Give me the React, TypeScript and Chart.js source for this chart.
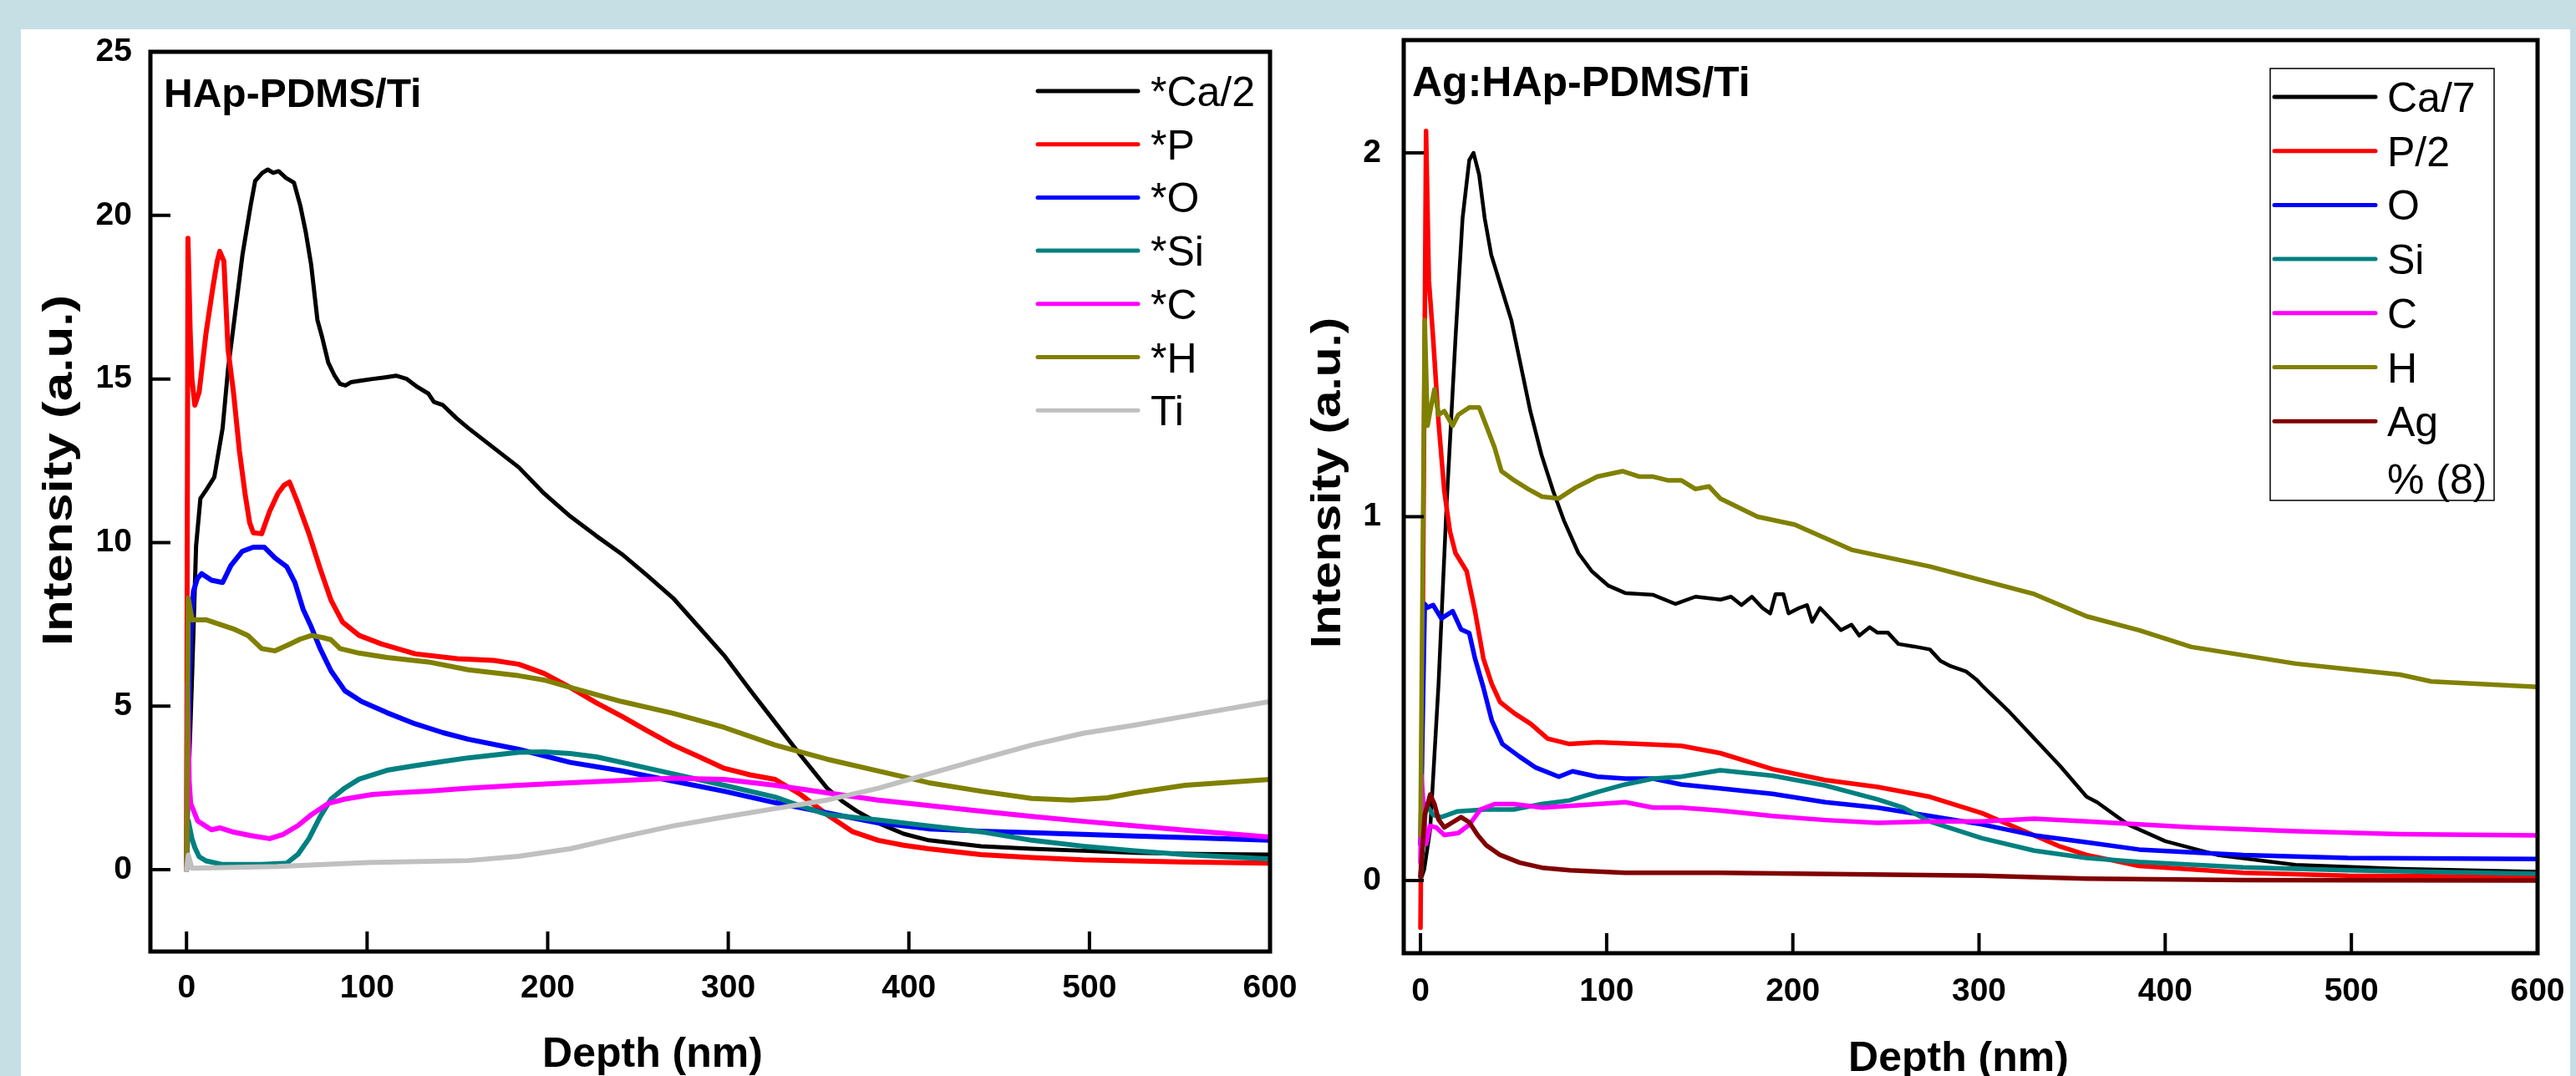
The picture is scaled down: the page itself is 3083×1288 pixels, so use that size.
import React, { useEffect, useRef } from 'react';
import { Chart, registerables } from 'chart.js';

Chart.register(...registerables);

// ---------------- Left panel: HAp-PDMS/Ti ----------------
const hapTitle = 'HAp-PDMS/Ti';
const hapLabels = ['*Ca/2', '*P', '*O', '*Si', '*C', '*H', 'Ti'];
const hapColors = ['#000000', '#ff0000', '#0000ff', '#008080', '#ff00ff', '#808000', '#c0c0c0'];
const hapXTicks = [0, 100, 200, 300, 400, 500, 600];
const hapYTicks = [0, 5, 10, 15, 20, 25];

const hapCa = [[0,0],[1,2.5],[3,5.8],[5.3,9.9],[7.7,11.35],[10.8,11.6],[15.4,12.0],[20,13.5],[23,15.3],[26,16.6],[31,18.8],[35.5,20.3],[38,21.05],[42,21.3],[45,21.4],[48,21.3],[51,21.35],[55,21.15],[59.5,21.0],[63,20.3],[66,19.5],[69,18.5],[72.5,16.8],[75,16.3],[78.5,15.5],[82,15.1],[85,14.85],[88,14.8],[91,14.9],[97,14.95],[103,15.0],[110,15.05],[116,15.1],[122,15.0],[128,14.75],[134,14.55],[137,14.3],[142,14.2],[149.5,13.8],[156,13.5],[170,12.9],[184,12.3],[198,11.5],[212.5,10.8],[227,10.2],[241,9.65],[255,9.0],[269.5,8.3],[284,7.4],[297.7,6.55],[312,5.5],[326,4.5],[340,3.5],[354.6,2.5],[363,2.1],[371,1.8],[383,1.43],[397,1.1],[411,0.9],[440,0.72],[468,0.64],[496.5,0.58],[525,0.52],[560,0.48],[600,0.46]];
const hapP = [[0,0.5],[0.8,19.3],[2,16.5],[3,15.0],[4.6,14.2],[7,14.6],[10.8,16.4],[14.6,17.8],[17,18.6],[18.4,18.9],[20.7,18.6],[23,15.9],[26,14.6],[29.3,12.8],[32.4,11.5],[35,10.6],[37,10.3],[41.6,10.27],[46,10.95],[50.6,11.5],[54,11.75],[57,11.85],[61.7,11.2],[67.8,10.27],[74,9.2],[80,8.24],[86.4,7.57],[95.6,7.16],[108,6.9],[126.6,6.6],[150,6.45],[170,6.4],[184,6.28],[198,6.0],[212.5,5.57],[227,5.1],[241,4.69],[255,4.25],[269.5,3.81],[284,3.45],[297.7,3.1],[312,2.9],[326,2.76],[340,2.3],[354.6,1.69],[369,1.16],[383,0.9],[397,0.75],[411,0.64],[440,0.46],[468,0.37],[496.5,0.3],[550,0.24],[600,0.2]];
const hapO = [[0,0],[1,4],[2.3,7.2],[3.8,8.5],[6,8.9],[8.4,9.05],[13.8,8.85],[20,8.78],[24.6,9.3],[30.8,9.73],[37,9.86],[43,9.86],[49,9.53],[55.5,9.26],[60,8.78],[64.5,7.97],[69,7.43],[74,6.76],[80,6.08],[87.7,5.47],[97,5.14],[111,4.8],[126.6,4.46],[142,4.19],[156,3.99],[184,3.68],[212.5,3.28],[241,3.02],[269.5,2.71],[297.7,2.4],[326,2.05],[354.6,1.74],[383,1.43],[411,1.25],[440,1.18],[468,1.13],[496.5,1.08],[525,1.03],[560,0.97],[600,0.9]];
const hapSi = [[0,0],[1,1.5],[3,0.95],[4.6,0.68],[7,0.4],[10.8,0.27],[20,0.16],[41.6,0.16],[55.5,0.2],[61.7,0.47],[67.8,0.95],[74,1.62],[80,2.16],[87.7,2.5],[95.6,2.77],[111,3.04],[126.6,3.18],[142,3.31],[156,3.42],[184,3.59],[198,3.6],[212.5,3.55],[227,3.45],[241,3.28],[269.5,2.93],[297.7,2.58],[326,2.22],[340,1.95],[354.6,1.69],[383,1.52],[411,1.34],[440,1.16],[468,0.9],[496.5,0.72],[525,0.58],[553,0.46],[600,0.33]];
const hapC = [[0,0],[0.5,5.7],[1.5,2.7],[2.3,2.03],[6.2,1.49],[13.8,1.22],[18.4,1.28],[26,1.15],[35,1.05],[46,0.95],[53.5,1.08],[61.7,1.35],[69.3,1.69],[78.7,2.03],[87.7,2.16],[103,2.3],[118.6,2.36],[134,2.4],[156,2.49],[184,2.58],[212.5,2.66],[241,2.73],[269.5,2.8],[297.7,2.76],[326,2.58],[354.6,2.35],[383,2.13],[411,1.96],[440,1.79],[468,1.63],[496.5,1.48],[525,1.34],[553,1.21],[600,1.0]];
const hapH = [[0,0],[1,8.3],[3,7.64],[10.8,7.64],[18.4,7.5],[26,7.36],[34,7.16],[41.6,6.76],[49,6.69],[57,6.89],[63,7.05],[69.3,7.16],[75,7.1],[80,7.03],[85,6.76],[95.6,6.62],[111,6.49],[134,6.35],[156,6.11],[184,5.93],[198,5.8],[212.5,5.57],[241,5.14],[269.5,4.78],[297.7,4.35],[326,3.81],[354.6,3.38],[383,3.02],[411,2.66],[440,2.4],[468,2.18],[490,2.13],[510,2.2],[525,2.35],[553,2.58],[600,2.76]];
const hapTi = [[0,0],[1,0.45],[3,0.05],[50,0.1],[100,0.22],[156,0.28],[184,0.41],[212.5,0.64],[241,1.0],[269.5,1.34],[297.7,1.61],[326,1.87],[354.6,2.13],[383,2.49],[411,2.93],[440,3.38],[468,3.81],[496.5,4.17],[525,4.42],[553,4.69],[600,5.14]];
const hapSeries = [hapCa, hapP, hapO, hapSi, hapC, hapH, hapTi];

// ---------------- Right panel: Ag:HAp-PDMS/Ti ----------------
const agTitle = 'Ag:HAp-PDMS/Ti';
const agLabels = ['Ca/7', 'P/2', 'O', 'Si', 'C', 'H', 'Ag\n% (8)'];
const agColors = ['#000000', '#ff0000', '#0000ff', '#008080', '#ff00ff', '#808000', '#800000'];
const agXTicks = [0, 100, 200, 300, 400, 500, 600];
const agYTicks = [0, 1, 2];

const agCa = [[0,0],[2,0.03],[5.2,0.14],[9.7,0.54],[14,1.03],[18.8,1.49],[22.6,1.82],[26.2,1.98],[28.5,2.0],[31.5,1.94],[34.5,1.82],[38,1.72],[44,1.62],[48.8,1.54],[53.3,1.43],[59,1.29],[65,1.17],[71.3,1.07],[77,0.99],[84.8,0.9],[92,0.85],[101,0.81],[110,0.79],[125,0.785],[137,0.76],[147.7,0.78],[161.2,0.772],[166.8,0.78],[172.4,0.757],[178,0.78],[183.7,0.749],[187.9,0.734],[190.7,0.787],[194.9,0.787],[197.7,0.734],[203.4,0.749],[207.6,0.757],[210.4,0.711],[214.6,0.749],[220.2,0.719],[225.8,0.688],[231.5,0.703],[235.7,0.673],[241.3,0.696],[245.5,0.681],[251.1,0.681],[256.7,0.65],[265.2,0.643],[273.6,0.635],[279.2,0.604],[284.8,0.589],[293.2,0.574],[298.9,0.551],[301.6,0.536],[315.6,0.467],[329.7,0.39],[343.7,0.314],[357.8,0.23],[363.4,0.215],[380,0.154],[400,0.108],[428,0.07],[470,0.043],[526,0.032],[600,0.024]];
const agP = [[0,-0.13],[1.5,0.9],[3,2.06],[4.5,1.65],[6.8,1.49],[9.7,1.26],[12.8,1.07],[15.8,0.96],[18.8,0.9],[24.8,0.85],[29.3,0.74],[33.8,0.61],[38.3,0.54],[42.8,0.49],[50.3,0.46],[59.3,0.43],[68.3,0.39],[80,0.375],[95,0.38],[117.7,0.375],[140,0.37],[161,0.35],[189,0.306],[217.4,0.276],[245.5,0.257],[273.6,0.23],[301.6,0.185],[329.7,0.124],[343.7,0.093],[357.8,0.07],[385.9,0.04],[442,0.021],[498,0.013],[600,0.01]];
const agO = [[0,0.1],[2.3,0.76],[3.8,0.75],[6.8,0.757],[11.2,0.72],[17.3,0.74],[21.8,0.69],[26.2,0.68],[29.3,0.61],[33.8,0.53],[38.3,0.44],[44,0.375],[53.3,0.34],[62,0.31],[74.3,0.285],[81.7,0.3],[95,0.285],[110,0.28],[125,0.28],[140,0.264],[161,0.253],[189,0.238],[217.4,0.215],[245.5,0.2],[273.6,0.177],[301.6,0.154],[329.7,0.124],[357.8,0.105],[385.9,0.085],[442,0.07],[498,0.062],[600,0.059]];
const agSi = [[0,0.01],[3,0.21],[6.8,0.18],[11.2,0.174],[20,0.19],[35,0.195],[50,0.195],[65,0.21],[80,0.22],[95,0.243],[110,0.264],[125,0.28],[140,0.285],[161,0.303],[189,0.288],[217.4,0.261],[245.5,0.223],[259.5,0.2],[273.6,0.162],[301.6,0.116],[329.7,0.082],[357.8,0.062],[385.9,0.051],[442,0.036],[498,0.028],[600,0.018]];
const agC = [[0,0.05],[0.5,0.29],[3,0.1],[5.2,0.15],[8.3,0.146],[12.8,0.125],[20.3,0.13],[26.2,0.153],[32.2,0.195],[39.8,0.21],[50.3,0.21],[65.5,0.2],[95,0.21],[110,0.215],[125,0.2],[140,0.2],[161,0.192],[189,0.177],[217.4,0.166],[245.5,0.158],[273.6,0.162],[301.6,0.162],[329.7,0.17],[357.8,0.162],[414,0.146],[470,0.135],[526,0.127],[600,0.124]];
const agH = [[0,0.125],[2.3,1.54],[3.8,1.25],[5.2,1.29],[7.5,1.35],[9.7,1.28],[12.8,1.29],[17.3,1.25],[20.3,1.28],[26.2,1.3],[31.5,1.3],[35.3,1.25],[39.8,1.19],[43.5,1.125],[50.3,1.1],[57.8,1.076],[65.3,1.055],[74.3,1.05],[83.3,1.08],[95,1.11],[108.7,1.125],[117.7,1.11],[125,1.11],[132.7,1.1],[140,1.1],[147.7,1.076],[155,1.083],[161,1.05],[181,1.0],[201,0.978],[231.5,0.909],[273.6,0.863],[301.6,0.825],[329.7,0.787],[357.8,0.726],[385.9,0.688],[414,0.642],[442,0.619],[470,0.596],[498,0.581],[526,0.566],[543,0.547],[600,0.532]];
const agAg = [[0,0.01],[2.3,0.18],[5.2,0.236],[7.5,0.21],[9.7,0.167],[12.8,0.146],[17.3,0.16],[21.8,0.174],[26.2,0.16],[30.7,0.125],[35.3,0.097],[42.8,0.07],[53.3,0.049],[65.3,0.035],[80.3,0.028],[110,0.021],[161,0.021],[301.6,0.013],[357.8,0.005],[442,0.001],[600,0.0]];
const agSeries = [agCa, agP, agO, agSi, agC, agH, agAg];

const axisTitleX = 'Depth (nm)';
const axisTitleY = 'Intensity (a.u.)';

// ---------------- layout / style specs ----------------
const BOLD = (s: number) => `bold ${s}px "Liberation Sans", Arial, sans-serif`;
const REG = (s: number) => `${s}px "Liberation Sans", Arial, sans-serif`;

const leftSpec = {
  left: 25, top: 35, width: 1535, height: 1253,
  area: { left: 155, top: 27, right: 1495, bottom: 1104 },
  xMin: -20, xMax: 600, yMin: -2.5, yMax: 25,
  xTicks: hapXTicks, yTicks: hapYTicks,
  labels: hapLabels, colors: hapColors, series: hapSeries,
  tickFont: { family: '"Liberation Sans", Arial, sans-serif', size: 39, weight: 'bold' },
  yPad: 22, xPad: 21,
  title: hapTitle, titleFont: BOLD(48), titlePos: [171, 93],
  legend: { box: null, lineX0: 1217, lineX1: 1337, textX: 1352, y0: 74, dy: 63.7, lineGap: 66, font: REG(50) },
  xTitlePos: [756, 1242], yTitlePos: [47, 528], yTitleStretch: 1.24, axisFont: BOLD(50),
  lineWidth: 6, blackWidth: 5,
};

const rightSpec = {
  left: 1560, top: 35, width: 1516, height: 1253,
  area: { left: 120, top: 13, right: 1477, bottom: 1106 },
  xMin: -9, xMax: 600, yMin: -0.2, yMax: 2.31,
  xTicks: agXTicks, yTicks: agYTicks,
  labels: agLabels, colors: agColors, series: agSeries,
  tickFont: { family: '"Liberation Sans Narrow", "Liberation Sans", Arial, sans-serif', size: 39, weight: 'bold' },
  yPad: 27, xPad: 23,
  title: agTitle, titleFont: BOLD(50), titlePos: [130, 80],
  legend: { box: [1157, 47, 1425, 564], lineX0: 1162, lineX1: 1283, textX: 1297, y0: 81, dy: 64.7, lineGap: 69, font: REG(50) },
  xTitlePos: [784, 1247], yTitlePos: [30, 543], yTitleStretch: 1.17, axisFont: BOLD(50),
  lineWidth: 5.5, blackWidth: 4.5,
};

const decorPlugin = {
  id: 'decor',
  afterDatasetsDraw(chart: any, _args: any, opts: any) {
    const { ctx, chartArea: ca, scales } = chart;
    const spec = opts.spec;
    ctx.save();
    ctx.strokeStyle = '#000';
    ctx.fillStyle = '#000';
    // inward ticks
    ctx.lineWidth = 4;
    ctx.lineCap = 'butt';
    ctx.beginPath();
    scales.x.ticks.forEach((t: any) => {
      const px = scales.x.getPixelForValue(t.value);
      ctx.moveTo(px, ca.bottom);
      ctx.lineTo(px, ca.bottom - 24);
    });
    scales.y.ticks.forEach((t: any) => {
      const py = scales.y.getPixelForValue(t.value);
      ctx.moveTo(ca.left, py);
      ctx.lineTo(ca.left + 24, py);
    });
    ctx.stroke();
    // frame
    ctx.lineWidth = 5;
    ctx.lineJoin = 'miter';
    ctx.strokeRect(ca.left, ca.top, ca.right - ca.left, ca.bottom - ca.top);

    // in-plot title
    ctx.font = spec.titleFont;
    ctx.textAlign = 'left';
    ctx.textBaseline = 'alphabetic';
    ctx.fillText(spec.title, spec.titlePos[0], spec.titlePos[1]);

    // legend
    const lg = spec.legend;
    if (lg.box) {
      ctx.lineWidth = 1.5;
      ctx.strokeRect(lg.box[0], lg.box[1], lg.box[2] - lg.box[0], lg.box[3] - lg.box[1]);
    }
    ctx.font = lg.font;
    chart.data.datasets.forEach((ds: any, i: number) => {
      const y = lg.y0 + i * lg.dy;
      ctx.strokeStyle = ds.borderColor;
      ctx.lineWidth = 5;
      ctx.lineCap = 'round';
      ctx.beginPath();
      ctx.moveTo(lg.lineX0, y);
      ctx.lineTo(lg.lineX1, y);
      ctx.stroke();
      const lines = String(ds.label).split('\n');
      lines.forEach((ln: string, k: number) => {
        ctx.fillText(ln, lg.textX, y + 18 + k * lg.lineGap);
      });
    });

    // axis titles
    ctx.font = spec.axisFont;
    ctx.textAlign = 'center';
    ctx.textBaseline = 'alphabetic';
    ctx.fillText(axisTitleX, spec.xTitlePos[0], spec.xTitlePos[1]);
    ctx.translate(spec.yTitlePos[0], spec.yTitlePos[1]);
    ctx.rotate(-Math.PI / 2);
    ctx.scale(spec.yTitleStretch, 1);
    ctx.textBaseline = 'middle';
    ctx.fillText(axisTitleY, 0, 0);
    ctx.restore();
  },
};

function Panel({ spec }: { spec: any }) {
  const ref = useRef<HTMLCanvasElement | null>(null);
  useEffect(() => {
    const canvas = ref.current!;
    const n = spec.series.length;
    const datasets = spec.series.map((s: number[][], i: number) => ({
      label: spec.labels[i],
      data: s.map((p) => ({ x: p[0], y: p[1] })),
      borderColor: spec.colors[i],
      backgroundColor: spec.colors[i],
      borderWidth: i === 0 ? spec.blackWidth : spec.lineWidth,
      borderJoinStyle: 'round',
      borderCapStyle: 'round',
      pointRadius: 0,
      fill: false,
      tension: 0,
      order: n - i,
    }));
    const a = spec.area;
    const chart = new Chart(canvas, {
      type: 'line',
      data: { datasets },
      plugins: [decorPlugin],
      options: {
        responsive: false,
        animation: false,
        devicePixelRatio: 1,
        layout: { padding: { left: 0, top: a.top, right: spec.width - a.right, bottom: 0 } },
        plugins: {
          legend: { display: false },
          tooltip: { enabled: false },
          decor: { spec },
        } as any,
        scales: {
          x: {
            type: 'linear',
            min: spec.xMin,
            max: spec.xMax,
            grid: { display: false, drawTicks: false },
            border: { display: false },
            ticks: { font: spec.tickFont, color: '#000', padding: spec.xPad, maxRotation: 0, minRotation: 0, autoSkip: false },
            afterBuildTicks: (scale: any) => { scale.ticks = spec.xTicks.map((v: number) => ({ value: v })); },
            afterFit: (scale: any) => {
              scale.height = spec.height - a.bottom;
              scale.paddingLeft = 0; scale.paddingRight = 0; scale.paddingTop = 0; scale.paddingBottom = 0;
            },
          },
          y: {
            type: 'linear',
            min: spec.yMin,
            max: spec.yMax,
            grid: { display: false, drawTicks: false },
            border: { display: false },
            ticks: { font: spec.tickFont, color: '#000', padding: spec.yPad, autoSkip: false },
            afterBuildTicks: (scale: any) => { scale.ticks = spec.yTicks.map((v: number) => ({ value: v })); },
            afterFit: (scale: any) => {
              scale.width = a.left;
              scale.paddingLeft = 0; scale.paddingRight = 0; scale.paddingTop = 0; scale.paddingBottom = 0;
            },
          },
        },
      } as any,
    });
    return () => chart.destroy();
  }, [spec]);
  return (
    <canvas
      ref={ref}
      width={spec.width}
      height={spec.height}
      style={{ position: 'absolute', left: spec.left, top: spec.top, width: spec.width, height: spec.height }}
    />
  );
}

export default function App() {
  return (
    <div style={{ position: 'fixed', left: 0, top: 0, width: 3083, height: 1288, background: 'rgb(197,223,228)', overflow: 'hidden' }}>
      <div style={{ position: 'absolute', left: 25, top: 35, width: 3051, height: 1253, background: '#ffffff' }} />
      <Panel spec={leftSpec} />
      <Panel spec={rightSpec} />
    </div>
  );
}
